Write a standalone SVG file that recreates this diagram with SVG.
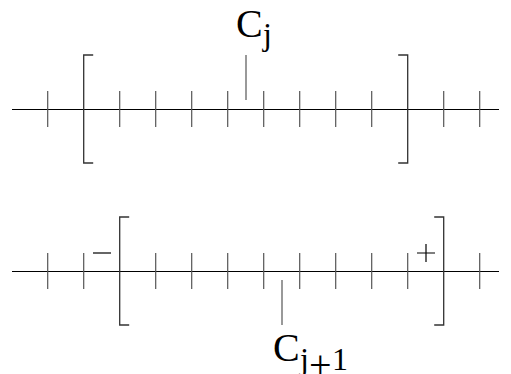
<svg xmlns="http://www.w3.org/2000/svg" width="511" height="374" viewBox="0 0 511 374">
<style>
.axis{stroke:#000;stroke-width:1;fill:none}
.tick{stroke:#555;stroke-width:1.2;fill:none}
.br{stroke:#333;stroke-width:1.3;fill:none}
.lbl{font-family:"Liberation Serif",serif;fill:#000}
</style>
<defs>
<path id="tk" class="tick" d="M0,-18V18"/>
</defs>
<rect width="511" height="374" fill="#fff"/>
<g id="connectors">
<line class="axis" x1="12" y1="109.5" x2="499" y2="109.5"/>
<line class="axis" x1="12" y1="271.5" x2="499" y2="271.5"/>
</g>
<g id="top-row">
<g id="top-ticks">
<use href="#tk" x="47.7" y="109"/>
<use href="#tk" x="119.7" y="109"/>
<use href="#tk" x="155.7" y="109"/>
<use href="#tk" x="191.7" y="109"/>
<use href="#tk" x="227.7" y="109"/>
<use href="#tk" x="263.7" y="109"/>
<use href="#tk" x="299.7" y="109"/>
<use href="#tk" x="335.7" y="109"/>
<use href="#tk" x="371.7" y="109"/>
<use href="#tk" x="443.7" y="109"/>
<use href="#tk" x="479.7" y="109"/>
</g>
<g id="top-bracket-left"><path class="br" d="M93.2,55H83.7V163H93.2"/></g>
<g id="top-bracket-right"><path class="br" d="M398.2,55H407.7V163H398.2"/></g>
<g id="cj">
<line class="tick" x1="246" y1="55" x2="246" y2="100"/>
<text class="lbl" x="236" y="37" font-size="40">C<tspan font-size="32" x="263" y="45">j</tspan></text>
</g>
</g>
<g id="bottom-row">
<g id="bottom-ticks">
<use href="#tk" x="47.7" y="271"/>
<use href="#tk" x="83.7" y="271"/>
<use href="#tk" x="155.7" y="271"/>
<use href="#tk" x="191.7" y="271"/>
<use href="#tk" x="227.7" y="271"/>
<use href="#tk" x="263.7" y="271"/>
<use href="#tk" x="299.7" y="271"/>
<use href="#tk" x="335.7" y="271"/>
<use href="#tk" x="371.7" y="271"/>
<use href="#tk" x="407.7" y="271"/>
<use href="#tk" x="479.7" y="271"/>
</g>
<g id="bottom-bracket-left"><path class="br" d="M129.2,217H119.7V325H129.2"/></g>
<g id="bottom-bracket-right"><path class="br" d="M434.2,217H443.7V325H434.2"/></g>
<g id="minus"><line stroke="#000" stroke-width="1.2" x1="93" y1="253" x2="111" y2="253"/></g>
<g id="plus"><path stroke="#000" stroke-width="1.2" fill="none" d="M417,253H435M426,244V262"/></g>
<g id="cj1">
<line class="tick" x1="282" y1="280" x2="282" y2="325"/>
<text class="lbl" x="273" y="361" font-size="40">C<tspan font-size="32" x="300" y="370">j</tspan><tspan font-size="40" x="309" y="378">+</tspan><tspan font-size="32" x="332" y="370">1</tspan></text>
</g>
</g>
</svg>
